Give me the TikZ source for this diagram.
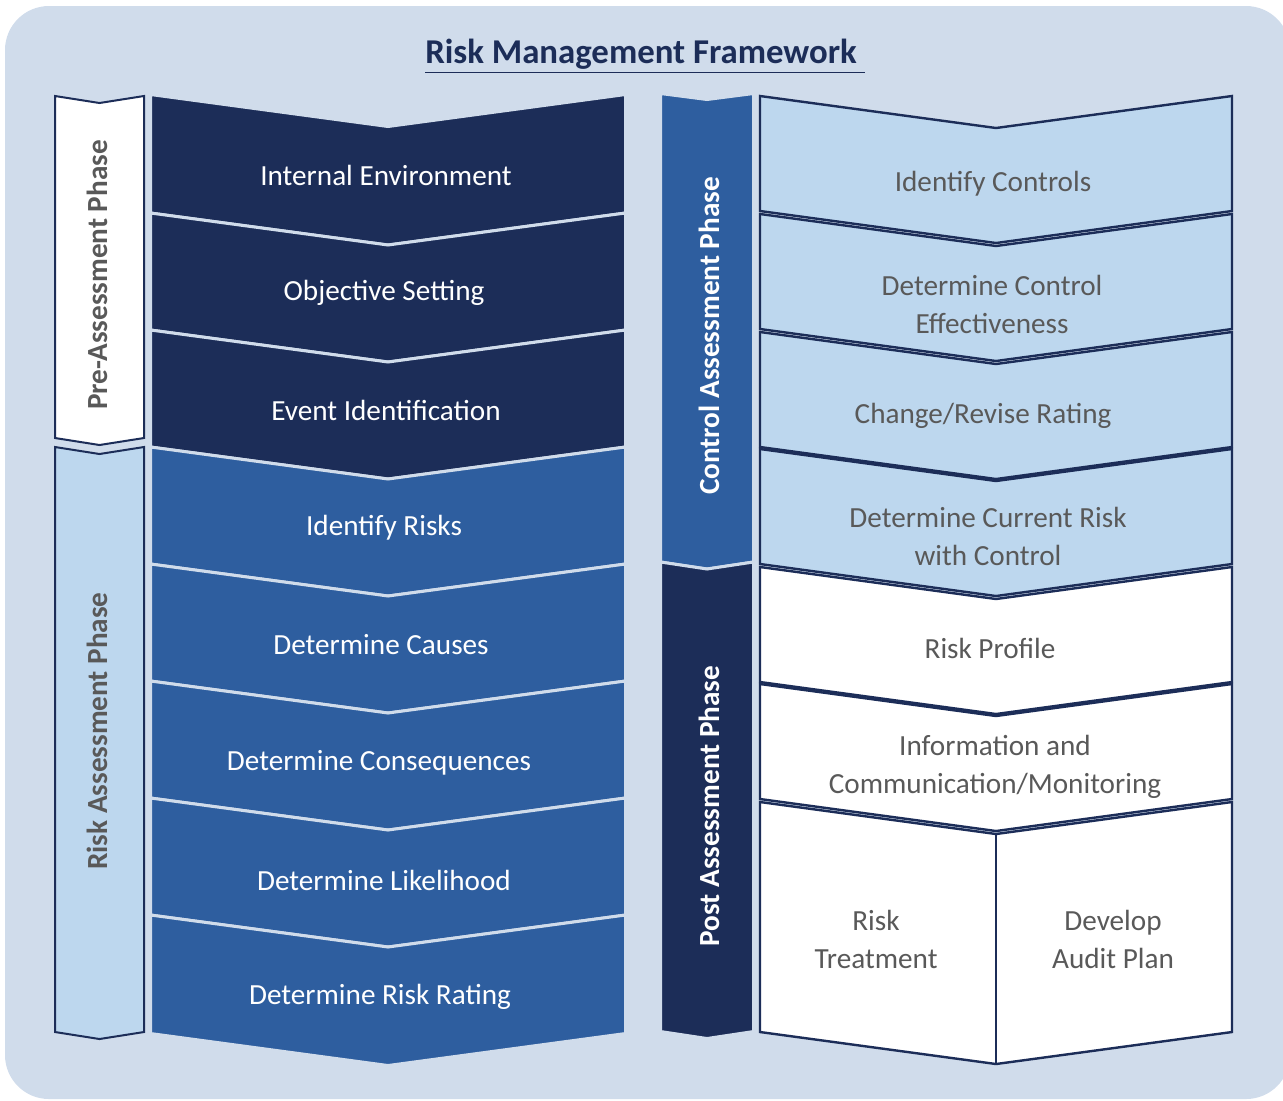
\documentclass[tikz,border=0pt]{standalone}
\usepackage{fontspec}
\setmainfont{Carlito}
\definecolor{bgblue}{HTML}{D0DCEB}
\definecolor{navy}{HTML}{1C2D58}
\definecolor{midblue}{HTML}{2E5E9F}
\definecolor{paleblue}{HTML}{BDD7EE}
\definecolor{txtgray}{HTML}{595959}
\begin{document}
\begin{tikzpicture}[x=0.5pt,y=-0.5pt,
  label/.style={align=center,font=\fontsize{14.6}{19}\selectfont},
  phase/.style={rotate=90,font=\fontsize{14.6}{18}\selectfont\bfseries}]
\useasboundingbox (0,0) rectangle (1283,1100);
\fill[bgblue,rounded corners=22pt] (5,6) rectangle (1290,1099);

% phase bars
\filldraw[fill=white,draw=navy,line width=1pt] (55,96) -- (99.5,103) -- (144,96) -- (144,438) -- (99.5,445) -- (55,438) -- cycle;
\filldraw[fill=paleblue,draw=navy,line width=1pt] (55,447) -- (99.5,454) -- (144,447) -- (144,1032) -- (99.5,1039) -- (55,1032) -- cycle;
\filldraw[fill=midblue,draw=bgblue,line width=1.5pt] (660.5,93.5) -- (707,99.5) -- (753.5,93.5) -- (753.5,562) -- (707,569) -- (660.5,562) -- cycle;
\filldraw[fill=navy,draw=bgblue,line width=1.5pt] (660.5,562) -- (707,569) -- (753.5,562) -- (753.5,1031.5) -- (707,1038.5) -- (660.5,1031.5) -- cycle;

% left chevrons
\foreach \ty/\h/\c in {94.5/118.5/navy,213/117/navy,330/117/navy,447/117/midblue,564/117/midblue,681/117/midblue,798/117/midblue,915/118.5/midblue}
  \filldraw[fill=\c,draw=bgblue,line width=1.5pt] (150.5,\ty) -- (388,\ty+32) -- (625.5,\ty) -- (625.5,\ty+\h) -- (388,\ty+\h+32) -- (150.5,\ty+\h) -- cycle;

% right chevrons
\foreach \ty/\h/\c in {96/115/paleblue,214/115/paleblue,332/115/paleblue,449/115/paleblue,567/115/white,684/115/white,802/230/white}
  \filldraw[fill=\c,draw=navy,line width=1.2pt] (760,\ty) -- (996,\ty+32) -- (1232,\ty) -- (1232,\ty+\h) -- (996,\ty+\h+32) -- (760,\ty+\h) -- cycle;
\draw[navy,line width=1.2pt] (996,834) -- (996,1064);

\node[font=\fontsize{17.4}{20}\selectfont\bfseries,text=navy] (title) at (645,56) {\underline{Risk Management Framework~}};

\node[phase,text=txtgray] (pre) at (97,275) {Pre-Assessment Phase};
\node[phase,text=txtgray] (riskph) at (97,731) {Risk Assessment Phase};
\node[phase,text=white] (ctrl) at (709,336) {Control Assessment Phase};
\node[phase,text=white] (post) at (709,806) {Post Assessment Phase};

\node[label,text=white] (env) at (386,175) {Internal Environment};
\node[label,text=white] (obj) at (384,293) {Objective Setting};
\node[label,text=white] (event) at (386,410) {Event Identification};
\node[label,text=white] (idrisk) at (384,528) {Identify Risks};
\node[label,text=white] (causes) at (381,645) {Determine Causes};
\node[label,text=white] (conseq) at (379,763) {Determine Consequences};
\node[label,text=white] (likely) at (384,880) {Determine Likelihood};
\node[label,text=white] (rating) at (380,997) {Determine Risk Rating};

\node[label,text=txtgray] (idctrl) at (993,184) {Identify Controls};
\node[label,text=txtgray] (effect) at (992,304) {Determine Control\\Effectiveness};
\node[label,text=txtgray] (revise) at (983,416) {Change/Revise Rating};
\node[label,text=txtgray] (current) at (988,536) {Determine Current Risk\\with Control};
\node[label,text=txtgray] (profile) at (990,648) {Risk Profile};
\node[label,text=txtgray] (info) at (995,767) {Information and\\Communication/Monitoring};
\node[label,text=txtgray] (treat) at (876,939) {Risk\\Treatment};
\node[label,text=txtgray] (audit) at (1113,939) {Develop\\Audit Plan};
\end{tikzpicture}
\end{document}
